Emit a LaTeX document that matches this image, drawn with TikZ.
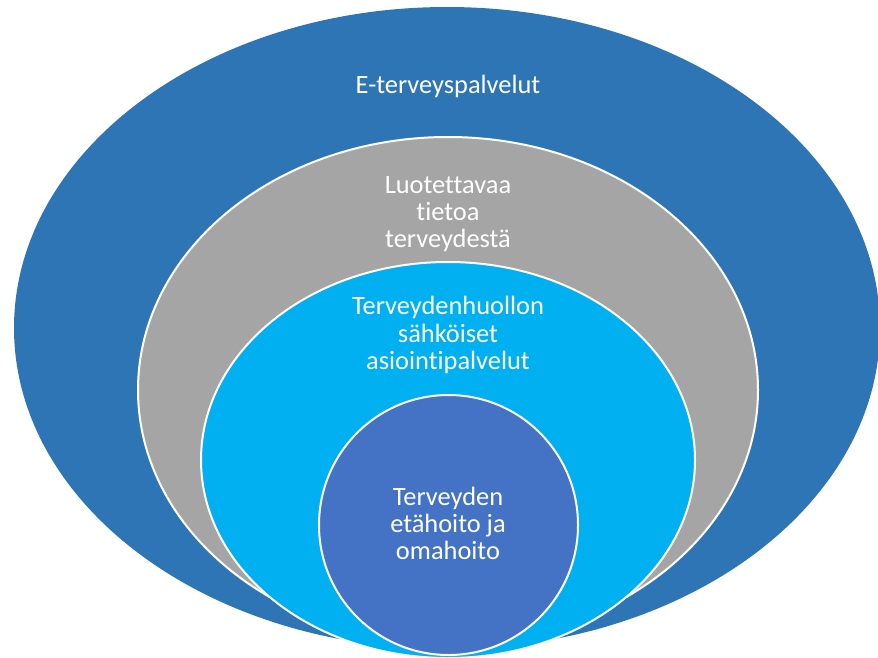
\documentclass[tikz,border=0pt]{standalone}
\usepackage{fontspec}
\setmainfont[Ligatures=NoCommon]{Carlito}
\usetikzlibrary{shapes.geometric}
\definecolor{cOuter}{HTML}{2E75B6}
\definecolor{cGray}{HTML}{A5A5A5}
\definecolor{cLight}{HTML}{00B0F0}
\definecolor{cInner}{HTML}{4472C4}
\tikzset{
  ring/.style={ellipse, draw=white, line width=1.5pt, inner sep=0pt, outer sep=0pt},
  lbl/.style={text=white, align=center, font=\fontsize{19.8pt}{20.3pt}\selectfont, inner sep=0pt}
}
\begin{document}
\begin{tikzpicture}[x=0.75pt,y=-0.75pt]
\useasboundingbox (0,0) rectangle (878,657);
\clip (0,0) rectangle (878,657);
\node[ring, fill=cOuter, draw=none, minimum width=649.5pt, minimum height=481.5pt] (outer) at (447,328) {};
\node[ring, fill=cGray, minimum width=465pt, minimum height=379.5pt] (gray) at (448,390) {};
\node[ring, fill=cLight, minimum width=370.5pt, minimum height=297pt] (light) at (448,460) {};
\node[ring, fill=cInner, minimum width=194.25pt, minimum height=195pt] (inner) at (448.5,525) {};
\node[lbl] (t1) at (448,86) {E-terveyspalvelut};
\node[lbl] (t2) at (448,214) {Luotettavaa\\tietoa\\terveydestä};
\node[lbl] (t3) at (448,335) {Terveydenhuollon\\sähköiset\\asiointipalvelut};
\node[lbl] (t4) at (448,523) {Terveyden\\etähoito ja\\omahoito};
\end{tikzpicture}
\end{document}
